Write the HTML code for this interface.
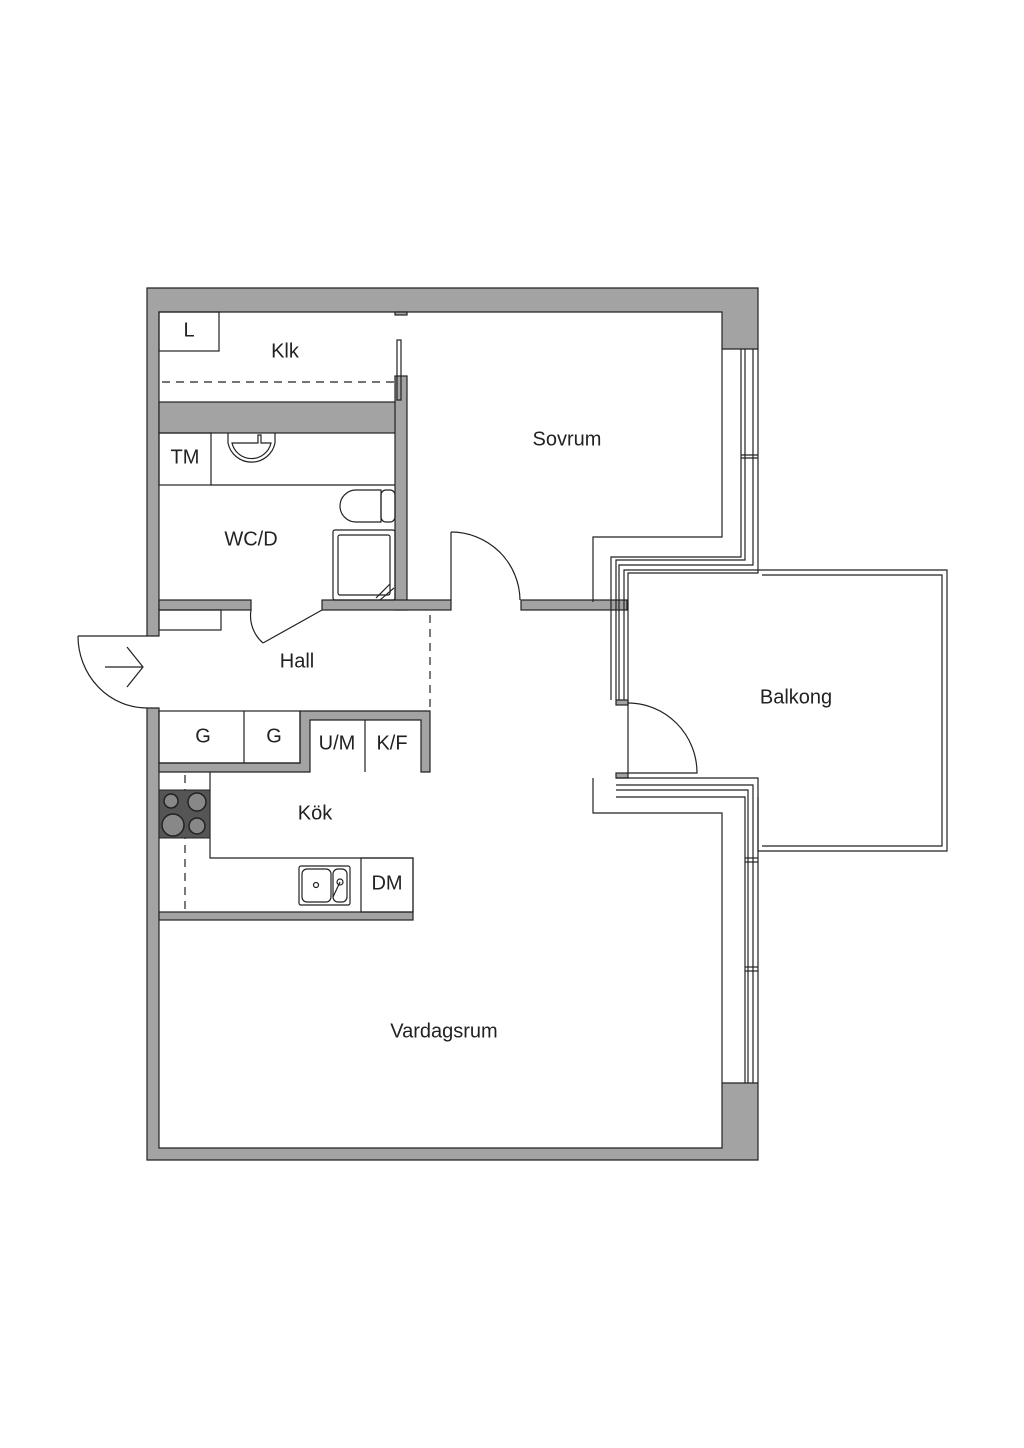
<!DOCTYPE html>
<html><head><meta charset="utf-8"><style>
html,body{margin:0;padding:0;background:#fff;}
svg{display:block;}
text{font-family:"Liberation Sans",sans-serif;font-size:20px;fill:#222;text-anchor:middle;dominant-baseline:middle;}
</style></head><body>
<svg width="1024" height="1448" viewBox="0 0 1024 1448" xmlns="http://www.w3.org/2000/svg">
<g fill="#a3a3a3" stroke="#222" stroke-width="1.2">
<!-- outer walls -->
<path d="M147,288 H758 V349 H722 V312 H159 V636 H147 Z"/>
<path d="M147,708 H159 V1148 H722 V1083 H758 V1160 H147 Z"/>
<!-- klk/wc wall -->
<rect x="159" y="402" width="246" height="31"/>
<rect x="395" y="376" width="12" height="234"/>
<rect x="395" y="312" width="12" height="3"/>
<!-- hall top wall -->
<rect x="159" y="600" width="92" height="10"/>
<rect x="322" y="600" width="129" height="10"/>
<rect x="521" y="600" width="106" height="10"/>
<!-- G wall -->
<path d="M159,763 H300 V711 H430 V772 H421 V720 H310 V772 H159 Z"/>
<!-- kitchen bottom wall -->
<rect x="159" y="912" width="254" height="8"/>
<!-- balcony door jambs -->
<rect x="616" y="700" width="12" height="5"/>
<rect x="616" y="773" width="12" height="5"/>
</g>
<g fill="none" stroke="#222" stroke-width="1.2">
<!-- klk -->
<rect x="159" y="312" width="60" height="39"/>
<line x1="162" y1="382" x2="395" y2="382" stroke-dasharray="8,6"/>
<rect x="397" y="340" width="4" height="60"/>
<!-- wc -->
<rect x="159" y="433" width="52" height="52"/>
<line x1="211" y1="485" x2="395" y2="485"/>
<path d="M228,433 v10 a24,24 0 0 0 47,0 v-10"/>
<path d="M232,443 a20,20 0 0 0 39,0 h-10 v-8 h-3 v8 z"/>
<path d="M381,490 h-25 a16,16 0 0 0 0,32 h25 z"/>
<rect x="381" y="490" width="14" height="32" rx="5"/>
<rect x="333" y="530" width="62" height="70" rx="2"/>
<rect x="338" y="535" width="52" height="60" rx="2"/>
<path d="M376,598 l14,-14 M380,600 l14,-12"/>
<!-- hall -->
<rect x="159" y="610" width="62" height="20"/>
<line x1="322" y1="610" x2="263" y2="643"/>
<path d="M251,610 a36,36 0 0 0 12,33"/>
<line x1="78" y1="636" x2="147" y2="636"/>
<path d="M78,636 a69,72 0 0 0 69,72"/>
<path d="M105,667 h37 M127,647 l16,20 l-16,20"/>
<line x1="430" y1="615" x2="430" y2="710" stroke-dasharray="8,6"/>
<rect x="159" y="711" width="141" height="52"/>
<line x1="244" y1="711" x2="244" y2="763"/>
<line x1="365" y1="720" x2="365" y2="772"/>
<!-- door sovrum -->
<line x1="451" y1="532" x2="451" y2="600"/>
<path d="M451,532 a69,69 0 0 1 69,68"/>
<!-- kitchen -->
<path d="M210,772 V858 H413 V912"/>
<rect x="361" y="858" width="52" height="54"/>
<line x1="185" y1="775" x2="185" y2="910" stroke-dasharray="8,6"/>
<rect x="299" y="866" width="51" height="39" rx="2"/>
<rect x="302" y="869" width="29" height="33" rx="5"/>
<rect x="333" y="869" width="14" height="33" rx="5"/>
<circle cx="316" cy="885" r="2.5"/><circle cx="340" cy="882" r="3"/>
<line x1="340" y1="882" x2="333" y2="897"/>
<!-- sovrum/windows -->
<path d="M722,349 V537 H593 V602"/>
<path d="M741,349 V557 H611 V700"/>
<path d="M745,349 V560 H616 V700"/>
<path d="M753,349 V565 H619 V700"/>
<path d="M758,349 V570 H624 V700"/>
<line x1="741" y1="455" x2="758" y2="455"/><line x1="741" y1="458" x2="758" y2="458"/>
<!-- balcony -->
<path d="M628,705 V573 H758 V570 H947 V851 H758 V797"/>
<path d="M762,575 H942 V846 H762"/>
<line x1="628" y1="705" x2="628" y2="773"/>
<path d="M628,703 a69,70 0 0 1 69,70 h-69"/>
<path d="M616,778 H758 V1083"/>
<path d="M616,785 H753 V1083"/>
<path d="M616,790 H748 V1083"/>
<path d="M616,797 H745 V1083"/>
<path d="M593,778 V813 H722 V1083"/>
<line x1="745" y1="858" x2="758" y2="858"/><line x1="745" y1="862" x2="758" y2="862"/>
<line x1="745" y1="967" x2="758" y2="967"/><line x1="745" y1="971" x2="758" y2="971"/>
</g>
<!-- stove -->
<rect x="159" y="790" width="51" height="48" fill="#555" stroke="#222"/>
<g fill="#888" stroke="#222" stroke-width="1.5">
<circle cx="171" cy="801" r="7"/><circle cx="197" cy="802" r="9"/>
<circle cx="173" cy="825" r="11"/><circle cx="197" cy="826" r="8"/>
</g>
<text x="189" y="331">L</text>
<text x="285" y="352">Klk</text>
<text x="567" y="440">Sovrum</text>
<text x="185" y="458">TM</text>
<text x="251" y="540">WC/D</text>
<text x="297" y="662">Hall</text>
<text x="203" y="737">G</text>
<text x="274" y="737">G</text>
<text x="337" y="744">U/M</text>
<text x="392" y="744">K/F</text>
<text x="315" y="814">Kök</text>
<text x="387" y="884">DM</text>
<text x="796" y="698">Balkong</text>
<text x="444" y="1032">Vardagsrum</text>
</svg>
</body></html>
